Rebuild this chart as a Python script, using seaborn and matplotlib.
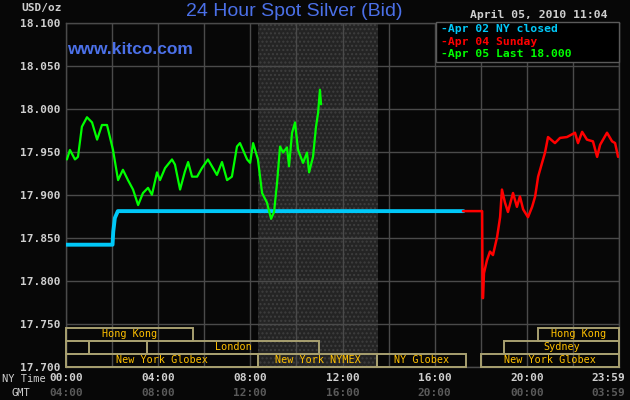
import matplotlib
matplotlib.use("Agg")
import matplotlib.pyplot as plt
import matplotlib.transforms as mtransforms
from matplotlib.patches import Rectangle
import seaborn as sns

# ----------------------------
# Data (hours, NY time / price USD/oz)
# ----------------------------
apr02_hours = [0.0, 2.02, 2.05, 2.12, 2.25, 17.25]
apr02_price = [17.842, 17.842, 17.857, 17.873, 17.881, 17.881]

apr04_hours = [17.23, 18.06, 18.08, 18.10, 18.14, 18.27, 18.40, 18.53, 18.71, 18.84,
               18.92, 19.05, 19.18, 19.40, 19.57, 19.70, 19.84, 20.05, 20.23, 20.36,
               20.49, 20.66, 20.79, 20.92, 21.22, 21.44, 21.74, 22.09, 22.22, 22.40,
               22.61, 22.87, 23.05, 23.18, 23.48, 23.70, 23.83, 23.96]
apr04_price = [17.881, 17.881, 17.780, 17.780, 17.809, 17.824, 17.834, 17.830, 17.851, 17.874,
               17.906, 17.891, 17.880, 17.902, 17.886, 17.898, 17.883, 17.874, 17.886, 17.898,
               17.921, 17.937, 17.949, 17.967, 17.960, 17.966, 17.967, 17.972, 17.960, 17.973,
               17.964, 17.962, 17.944, 17.958, 17.972, 17.962, 17.960, 17.944]

apr05_hours = [0.04, 0.17, 0.39, 0.52, 0.69, 0.91, 1.13, 1.35, 1.56, 1.78,
               2.04, 2.26, 2.47, 2.69, 2.91, 3.13, 3.34, 3.56, 3.73, 3.95,
               4.08, 4.30, 4.60, 4.73, 4.95, 5.16, 5.30, 5.47, 5.69, 5.90,
               6.16, 6.38, 6.55, 6.77, 6.99, 7.20, 7.42, 7.55, 7.86, 7.99,
               8.12, 8.33, 8.51, 8.72, 8.90, 9.03, 9.16, 9.29, 9.42, 9.59,
               9.68, 9.81, 9.94, 10.07, 10.29, 10.46, 10.55, 10.72, 10.85, 10.94,
               11.02, 11.07]
apr05_price = [17.941, 17.952, 17.941, 17.944, 17.979, 17.990, 17.984, 17.964, 17.981, 17.981,
               17.952, 17.917, 17.929, 17.917, 17.906, 17.888, 17.902, 17.908, 17.900, 17.926,
               17.917, 17.931, 17.941, 17.935, 17.906, 17.927, 17.938, 17.921, 17.921, 17.931,
               17.941, 17.931, 17.923, 17.938, 17.917, 17.921, 17.956, 17.960, 17.941, 17.937,
               17.960, 17.941, 17.902, 17.891, 17.872, 17.880, 17.914, 17.956, 17.949, 17.955,
               17.933, 17.972, 17.984, 17.952, 17.937, 17.949, 17.926, 17.944, 17.979, 17.995,
               18.022, 18.005]

legend_labels = ["Apr 02 NY closed", "Apr 04 Sunday", "Apr 05 Last 18.000"]

y_ticks = [17.70, 17.75, 17.80, 17.85, 17.90, 17.95, 18.00, 18.05, 18.10]
ny_time_labels = ["00:00", "04:00", "08:00", "12:00", "16:00", "20:00", "23:59"]
gmt_labels = ["04:00", "08:00", "12:00", "16:00", "20:00", "00:00", "03:59"]
label_hours = [0, 4, 8, 12, 16, 20, 24]

# trading sessions: (name, start hour, end hour, row)
session_names = ["Hong Kong", "Hong Kong", "", "", "London", "Sydney",
                 "New York Globex", "New York NYMEX", "NY Globex", "New York Globex"]
session_start = [0.0, 20.5, 0.0, 1.0, 3.5, 19.0, 0.0, 8.33, 13.5, 18.0]
session_end = [5.5, 24.0, 1.0, 3.5, 11.0, 24.0, 8.33, 13.5, 17.38, 24.0]
session_row = [2, 2, 1, 1, 1, 1, 0, 0, 0, 0]

nymex_open, nymex_close = 8.33, 13.55

# ----------------------------
# Style
# ----------------------------
sns.set_theme(style="dark")
mono = "DejaVu Sans Mono"
plt.rcParams["font.family"] = ["DejaVu Sans"]
plt.rcParams["hatch.linewidth"] = 1.0

bg = "#070707"
grid_c = "#4a4a4a"
box_c = "#a8a070"
txt_c = "#ffc000"

fig = plt.figure(figsize=(6.3, 4.0), dpi=100, facecolor=bg)
ax = fig.add_axes([66 / 630, 33 / 400, 553 / 630, 344.5 / 400])
ax.set_facecolor(bg)

# NYMEX shaded hours
ax.axvspan(nymex_open, nymex_close, facecolor="#242424", edgecolor="#3e3e3e",
           hatch="....", lw=0, zorder=0)

sns.lineplot(x=apr02_hours, y=apr02_price, ax=ax, color="#00c8f8", lw=2.8,
             estimator=None, sort=False, zorder=4)
sns.lineplot(x=apr04_hours, y=apr04_price, ax=ax, color="#ff0000", lw=1.8,
             estimator=None, sort=False, zorder=4)
sns.lineplot(x=apr05_hours, y=apr05_price, ax=ax, color="#00ff00", lw=1.6,
             estimator=None, sort=False, zorder=4)

ax.set_xlim(0, 24)
ax.set_ylim(17.70, 18.10)
ax.set_xticks(range(0, 25, 2))
ax.set_xticklabels([""] * 13)
ax.set_yticks(y_ticks)
ax.set_yticklabels([f"{v:.3f}" for v in y_ticks],
                   fontfamily=mono, fontweight="bold", fontsize=8, color="#cfcfcf")
ax.tick_params(length=0)
ax.tick_params(axis="y", pad=4)
ax.grid(True, color=grid_c, lw=1.0)
ax.set_axisbelow(True)
for s in ax.spines.values():
    s.set_color(grid_c)
    s.set_linewidth(1.0)
ax.set_xlabel("")
ax.set_ylabel("")

# session boxes
row_h = 0.0151
for name, a, b, r in zip(session_names, session_start, session_end, session_row):
    y0 = 17.7005 + r * row_h
    ax.add_patch(Rectangle((a, y0), b - a, row_h - 0.0008, fill=False,
                           ec=box_c, lw=1.4, zorder=3, clip_on=False))
    if name:
        ax.text((a + b) / 2, y0 + row_h / 2 - 0.0004, name, ha="center", va="center",
                fontfamily=mono, fontsize=7.3, color=txt_c, zorder=5)

# x labels: NY time and GMT rows
tr = mtransforms.blended_transform_factory(ax.transData, fig.transFigure)
for h, ny, gm in zip(label_hours, ny_time_labels, gmt_labels):
    t = tr
    ha = "center"
    if h == 24:
        t = mtransforms.offset_copy(tr, fig=fig, x=6, y=0, units="dots")
        ha = "right"
    ax.text(h, 1 - 378 / 400, ny, transform=t, ha=ha, va="center",
            fontfamily=mono, fontweight="bold", fontsize=8, color="#cfcfcf")
    ax.text(h, 1 - 393 / 400, gm, transform=t, ha=ha, va="center",
            fontfamily=mono, fontweight="bold", fontsize=8, color="#5a5a5a")
fig.text(24 / 630, 1 - 379 / 400, "NY Time", ha="center", va="center",
         fontfamily=mono, fontsize=7.5, color="#cfcfcf")
fig.text(21 / 630, 1 - 393 / 400, "GMT", ha="center", va="center",
         fontfamily=mono, fontsize=7.5, color="#cfcfcf")

# header texts
fig.text(62 / 630, 1 - 8 / 400, "USD/oz", ha="right", va="center",
         fontfamily=mono, fontweight="bold", fontsize=8, color="#cfcfcf")
fig.text(294 / 630, 1 - 11 / 400, "24 Hour Spot Silver (Bid)", ha="center", va="center",
         fontfamily="Liberation Sans", fontsize=14, color="#4b70e8")
fig.text(67 / 630, 1 - 50 / 400, "www.kitco.com", ha="left", va="center",
         fontfamily="Liberation Sans", fontweight="bold", fontsize=12.5, color="#4b70e8")
fig.text(608 / 630, 1 - 15 / 400, "April 05, 2010 11:04", ha="right", va="center",
         fontfamily=mono, fontweight="bold", fontsize=8.2, color="#cfcfcf")

# legend box
fig.patches.append(Rectangle((436 / 630, 1 - 62 / 400), 183 / 630, 40 / 400,
                             transform=fig.transFigure, facecolor="#000000",
                             edgecolor="#5a5a5a", lw=1.0, zorder=2))
legend_colors = ["#00c8f8", "#ff0000", "#00ff00"]
for i, (lab, c) in enumerate(zip(legend_labels, legend_colors)):
    yy = 1 - (29 + 12.7 * i) / 400
    fig.text(441 / 630, yy, "-" + lab, ha="left", va="center",
             fontfamily=mono, fontweight="bold", fontsize=8.2, color=c, zorder=3)

fig.savefig("out.png", dpi=100, facecolor=bg)
